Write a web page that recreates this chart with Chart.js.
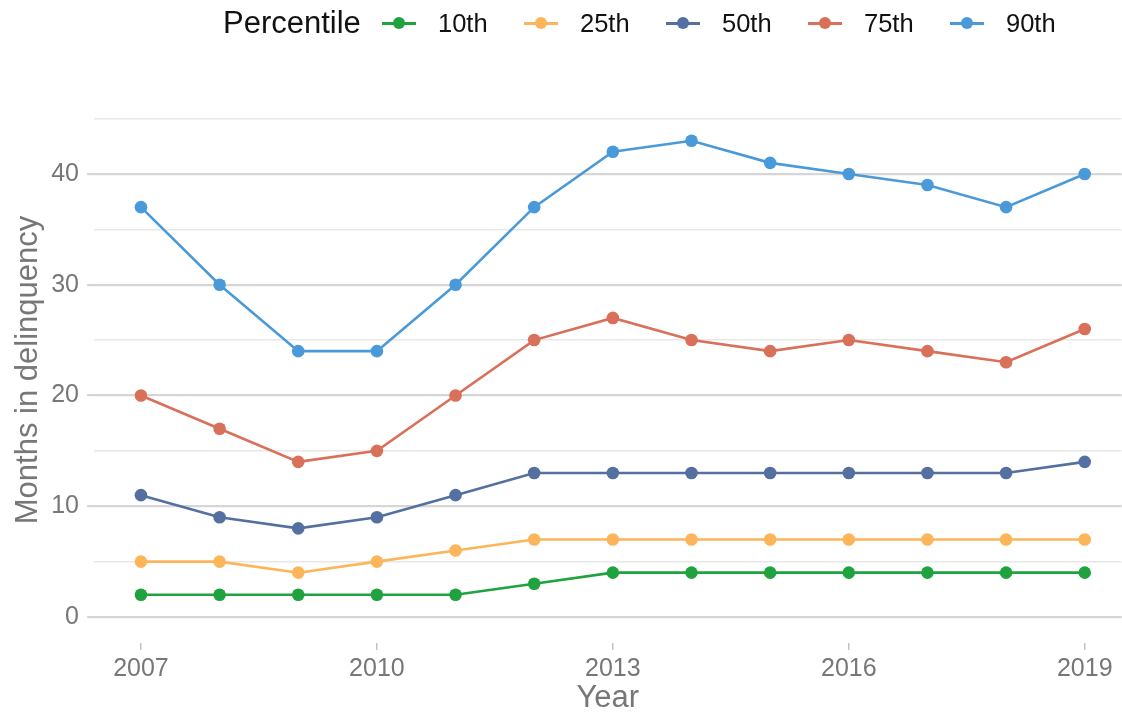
<!DOCTYPE html>
<html>
<head>
<meta charset="utf-8">
<script src="https://cdn.jsdelivr.net/npm/chart.js@4"></script>
<style>
  html, body { margin: 0; padding: 0; background: #fff; }
  body { width: 1122px; height: 717px; position: relative; overflow: hidden; font-family: "Liberation Sans", Arial, sans-serif; }
  #wrap { position: absolute; left: 0; top: 0; width: 1128px; height: 717px; }
  .lg { position: absolute; top: 0; height: 46px; line-height: 46px; color: #111; white-space: nowrap; }
  .lgt { font-size: 31px; }
  .lgl { font-size: 25.5px; }
  .ico { position: absolute; top: 16px; width: 34px; height: 14px; }
  .ico .ln { position: absolute; left: 0; right: 0; top: 6px; height: 3px; }
  .ico .pt { position: absolute; left: 11px; top: 1px; width: 12px; height: 12px; border-radius: 50%; }
  #ytitle { position: absolute; left: -173px; top: 350px; width: 400px; height: 40px; line-height: 40px;
            text-align: center; font-size: 31px; color: #777; transform: rotate(-90deg); white-space: nowrap; }
</style>
</head>
<body>
<div id="wrap"><canvas id="c" width="1128" height="717"></canvas></div>
<div id="legend"></div>
<div id="ytitle"></div>
<script>
const years = [2007, 2008, 2009, 2010, 2011, 2012, 2013, 2014, 2015, 2016, 2017, 2018, 2019];
const seriesNames = ["10th", "25th", "50th", "75th", "90th"];
const p10 = [2, 2, 2, 2, 2, 3, 4, 4, 4, 4, 4, 4, 4];
const p25 = [5, 5, 4, 5, 6, 7, 7, 7, 7, 7, 7, 7, 7];
const p50 = [11, 9, 8, 9, 11, 13, 13, 13, 13, 13, 13, 13, 14];
const p75 = [20, 17, 14, 15, 20, 25, 27, 25, 24, 25, 24, 23, 26];
const p90 = [37, 30, 24, 24, 30, 37, 42, 43, 41, 40, 39, 37, 40];
const xTicks = [2007, 2010, 2013, 2016, 2019];
const yTicks = [0, 5, 10, 15, 20, 25, 30, 35, 40, 45];
const yLabelTicks = [0, 10, 20, 30, 40];
const colors = ["#1fa33e", "#fdb55a", "#5470a0", "#d9705a", "#4a9ad9"];
const legendTitle = "Percentile";
const xTitle = "Year";
const yTitle = "Months in delinquency";

const allSeries = [p10, p25, p50, p75, p90];
const datasets = allSeries.map((vals, i) => ({
  label: seriesNames[i],
  data: years.map((y, j) => ({ x: y, y: vals[j] })),
  borderColor: colors[i],
  backgroundColor: colors[i],
  borderWidth: 2.6,
  pointRadius: 6.3,
  pointHoverRadius: 6.3,
  pointBorderWidth: 0,
  tension: 0
}));

// HTML legend
const lg = document.getElementById('legend');
const t = document.createElement('div');
t.className = 'lg lgt'; t.style.left = '223px'; t.textContent = legendTitle;
lg.appendChild(t);
seriesNames.forEach((n, i) => {
  const x0 = 382 + i * 142;
  const ico = document.createElement('div');
  ico.className = 'ico'; ico.style.left = x0 + 'px';
  ico.innerHTML = '<div class="ln" style="background:' + colors[i] + '"></div><div class="pt" style="background:' + colors[i] + '"></div>';
  lg.appendChild(ico);
  const l = document.createElement('div');
  l.className = 'lg lgl'; l.style.left = (x0 + 56) + 'px'; l.textContent = n;
  lg.appendChild(l);
});
document.getElementById('ytitle').textContent = yTitle;

const tickFont = { family: "'Liberation Sans', Arial, sans-serif", size: 25 };
const titleFont = { family: "'Liberation Sans', Arial, sans-serif", size: 31 };

new Chart(document.getElementById('c'), {
  type: 'line',
  data: { datasets },
  options: {
    responsive: false,
    animation: false,
    layout: { padding: { top: 118, right: 0, left: 0, bottom: 0 } },
    plugins: { legend: { display: false }, tooltip: { enabled: false } },
    scales: {
      x: {
        type: 'linear',
        min: 2006.403,
        max: 2019.47,
        afterBuildTicks: (s) => { s.ticks = xTicks.map(v => ({ value: v })); },
        afterFit: (s) => { s.height = 74; s.paddingLeft = 0; s.paddingRight = 0; },
        ticks: { color: '#777', font: tickFont, padding: 4, maxRotation: 0, autoSkip: false, callback: v => String(v) },
        grid: { drawOnChartArea: false, drawTicks: true, tickLength: 7, tickColor: '#c4c4c4', lineWidth: 1.5 },
        border: { display: false },
        title: { display: true, text: xTitle, color: '#777', font: titleFont, padding: { top: 0, bottom: 0 } }
      },
      y: {
        type: 'linear',
        min: -2.35,
        max: 45.05,
        afterBuildTicks: (s) => { s.ticks = yTicks.map(v => ({ value: v })); },
        afterFit: (s) => { s.width = 94; s.paddingTop = 0; s.paddingBottom = 0; },
        ticks: {
          color: '#777', font: tickFont, padding: 8, autoSkip: false,
          callback: v => yLabelTicks.includes(v) ? String(v) : ''
        },
        grid: {
          drawTicks: true, tickLength: 7,
          color: ctx => (ctx.tick && yLabelTicks.includes(ctx.tick.value)) ? '#d6d6d6' : '#e8e8e8',
          tickColor: ctx => (ctx.tick && yLabelTicks.includes(ctx.tick.value)) ? '#d6d6d6' : 'rgba(0,0,0,0)',
          lineWidth: ctx => (ctx.tick && yLabelTicks.includes(ctx.tick.value)) ? 2.2 : 1.6
        },
        border: { display: false },
        title: { display: false }
      }
    }
  }
});
</script>
</body>
</html>
